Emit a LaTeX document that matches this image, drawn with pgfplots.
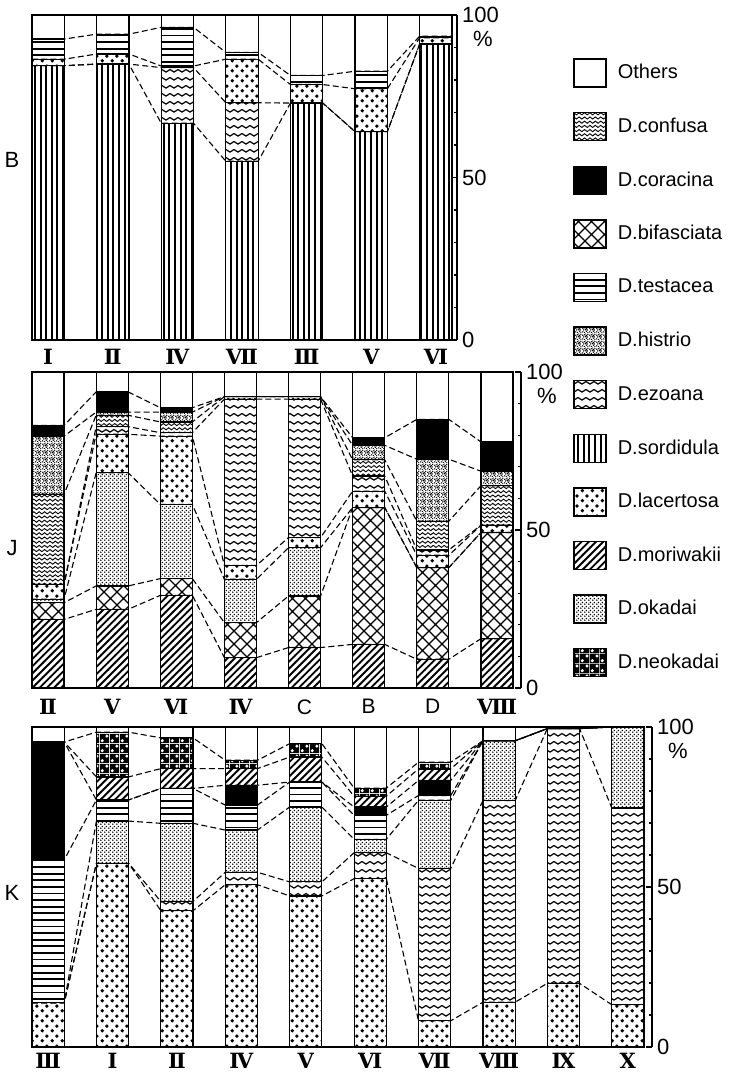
\documentclass[border=0pt]{standalone}
\usepackage{fontspec}
\setmainfont{Liberation Sans}
\newfontfamily\rmn{DejaVu Serif}
\usepackage{pgfplots}
\pgfplotsset{compat=1.18}
\usepackage{pgfplotstable}
\usetikzlibrary{patterns}

% ---------- patterns ----------
\pgfdeclarepatternformonly{pvl}{\pgfqpoint{0pt}{0pt}}{\pgfqpoint{1.4pt}{100pt}}{\pgfqpoint{2.8pt}{100pt}}{%
  \pgfsetlinewidth{1.05pt}\pgfpathmoveto{\pgfqpoint{0.7pt}{0pt}}\pgfpathlineto{\pgfqpoint{0.7pt}{100pt}}\pgfusepath{stroke}}
\pgfdeclarepatternformonly{phl}{\pgfqpoint{0pt}{0pt}}{\pgfqpoint{100pt}{1.2pt}}{\pgfqpoint{100pt}{3.3pt}}{%
  \pgfsetlinewidth{0.9pt}\pgfpathmoveto{\pgfqpoint{0pt}{0.6pt}}\pgfpathlineto{\pgfqpoint{100pt}{0.6pt}}\pgfusepath{stroke}}
\pgfdeclarepatternformonly{pwavy}{\pgfqpoint{-0.3pt}{0pt}}{\pgfqpoint{4.3pt}{2.2pt}}{\pgfqpoint{4pt}{4pt}}{%
  \pgfsetlinewidth{0.6pt}\pgfpathmoveto{\pgfqpoint{0pt}{1.1pt}}
  \pgfpathcurveto{\pgfqpoint{0.67pt}{1.95pt}}{\pgfqpoint{1.33pt}{1.95pt}}{\pgfqpoint{2pt}{1.1pt}}
  \pgfpathcurveto{\pgfqpoint{2.67pt}{0.25pt}}{\pgfqpoint{3.33pt}{0.25pt}}{\pgfqpoint{4pt}{1.1pt}}\pgfusepath{stroke}}
\pgfdeclarepatternformonly{pconf}{\pgfqpoint{-0.3pt}{0pt}}{\pgfqpoint{3.0pt}{1.6pt}}{\pgfqpoint{2.7pt}{2.1pt}}{%
  \pgfsetlinewidth{0.45pt}\pgfpathmoveto{\pgfqpoint{0pt}{0.8pt}}
  \pgfpathcurveto{\pgfqpoint{0.45pt}{1.5pt}}{\pgfqpoint{0.9pt}{1.5pt}}{\pgfqpoint{1.35pt}{0.8pt}}
  \pgfpathcurveto{\pgfqpoint{1.8pt}{0.1pt}}{\pgfqpoint{2.25pt}{0.1pt}}{\pgfqpoint{2.7pt}{0.8pt}}\pgfusepath{stroke}}
\pgfdeclarepatternformonly{pbig}{\pgfqpoint{0pt}{0pt}}{\pgfqpoint{5pt}{5pt}}{\pgfqpoint{5pt}{5pt}}{%
  \pgfpathcircle{\pgfqpoint{1.25pt}{1.25pt}}{1.0pt}\pgfpathcircle{\pgfqpoint{3.75pt}{3.75pt}}{1.0pt}\pgfusepath{fill}}
\pgfdeclarepatternformonly{pfine}{\pgfqpoint{0pt}{0pt}}{\pgfqpoint{2pt}{2pt}}{\pgfqpoint{2pt}{2pt}}{%
  \pgfpathcircle{\pgfqpoint{0.5pt}{0.5pt}}{0.47pt}\pgfpathcircle{\pgfqpoint{1.5pt}{1.5pt}}{0.47pt}\pgfusepath{fill}}
\pgfdeclarepatternformonly{pdiag}{\pgfqpoint{-1pt}{-1pt}}{\pgfqpoint{4.6pt}{4.6pt}}{\pgfqpoint{3.6pt}{3.6pt}}{%
  \pgfsetlinewidth{0.95pt}\pgfpathmoveto{\pgfqpoint{-0.1pt}{-0.1pt}}\pgfpathlineto{\pgfqpoint{3.7pt}{3.7pt}}\pgfusepath{stroke}}
\pgfdeclarepatternformonly{pbif}{\pgfqpoint{-1pt}{-1pt}}{\pgfqpoint{7.5pt}{7.5pt}}{\pgfqpoint{6.5pt}{6.5pt}}{%
  \pgfsetlinewidth{0.6pt}\pgfpathmoveto{\pgfqpoint{-0.1pt}{-0.1pt}}\pgfpathlineto{\pgfqpoint{6.6pt}{6.6pt}}
  \pgfpathmoveto{\pgfqpoint{-0.1pt}{6.6pt}}\pgfpathlineto{\pgfqpoint{6.6pt}{-0.1pt}}\pgfusepath{stroke}}
\pgfdeclarepatternformonly{pneo}{\pgfqpoint{0pt}{0pt}}{\pgfqpoint{5pt}{5pt}}{\pgfqpoint{5pt}{5pt}}{%
  \pgfseteorule\pgfpathrectangle{\pgfpointorigin}{\pgfqpoint{5pt}{5pt}}
  \pgfpathcircle{\pgfqpoint{1.25pt}{1.25pt}}{1.05pt}\pgfpathcircle{\pgfqpoint{3.75pt}{3.75pt}}{1.05pt}\pgfusepath{fill}}
\pgfdeclarepatternformonly{phist}{\pgfqpoint{0pt}{0pt}}{\pgfqpoint{3.6pt}{3.6pt}}{\pgfqpoint{3.6pt}{3.6pt}}{%
  \pgfpathcircle{\pgfqpoint{0.4pt}{0.6pt}}{0.4pt}\pgfpathcircle{\pgfqpoint{1.4pt}{0.3pt}}{0.35pt}
  \pgfpathcircle{\pgfqpoint{2.4pt}{0.9pt}}{0.4pt}\pgfpathcircle{\pgfqpoint{3.2pt}{0.3pt}}{0.35pt}
  \pgfpathcircle{\pgfqpoint{0.9pt}{1.6pt}}{0.35pt}\pgfpathcircle{\pgfqpoint{1.9pt}{1.8pt}}{0.4pt}
  \pgfpathcircle{\pgfqpoint{2.9pt}{1.6pt}}{0.35pt}\pgfpathcircle{\pgfqpoint{0.3pt}{2.6pt}}{0.4pt}
  \pgfpathcircle{\pgfqpoint{1.3pt}{2.9pt}}{0.35pt}\pgfpathcircle{\pgfqpoint{2.3pt}{2.5pt}}{0.38pt}
  \pgfpathcircle{\pgfqpoint{3.2pt}{3.1pt}}{0.4pt}\pgfpathcircle{\pgfqpoint{1.0pt}{2.2pt}}{0.25pt}
  \pgfpathcircle{\pgfqpoint{2.8pt}{2.2pt}}{0.25pt}\pgfpathcircle{\pgfqpoint{2.0pt}{3.3pt}}{0.3pt}
  \pgfusepath{fill}}

\tikzset{
  s-oth/.style={fill=white},
  s-conf/.style={pattern=pconf},
  s-cor/.style={fill=black},
  s-bif/.style={pattern=pbif},
  s-test/.style={pattern=phl},
  s-hist/.style={pattern=phist},
  s-ezo/.style={pattern=pwavy},
  s-sord/.style={pattern=pvl},
  s-lac/.style={pattern=pbig},
  s-mori/.style={pattern=pdiag},
  s-oka/.style={pattern=pfine},
  s-neo/.style={pattern=pneo},
}

\pgfplotsset{
  barpanel/.style={scale only axis, anchor=south west, ymin=0, ymax=100,
    ybar stacked, bar width=0.5, ytick=\empty, xtick style={draw=none},
    axis line style={line width=0.7pt},
    every axis plot/.append style={draw=black, line width=0.6pt},
    xticklabel style={font=\rmn\bfseries\fontsize{10.5}{10.5}\selectfont, inner sep=1pt}},
  linepanel/.style={scale only axis, anchor=south west, ymin=0, ymax=100,
    hide axis, stack plots=y},
  dl/.style={black, dash pattern=on 3pt off 1.6pt, line width=0.55pt, mark=none},
  raxis/.style={scale only axis, anchor=south west, width=1pt, xmin=0, xmax=1,
    ymin=0, ymax=100, axis x line=none, axis y line*=right, clip=false,
    ytick={0,50,100}, minor ytick={10,20,30,40,60,70,80,90},
    tick align=inside, major tick length=3pt, minor tick length=1.5pt,
    axis line style={line width=0.6pt}, tick style={line width=0.6pt, black},
    /pgf/number format/assume math mode=true,
    yticklabel style={font=\fontsize{11}{11}\selectfont, xshift=-1pt}},
}

% ---------- data: panel B (bottom to top) ----------
\pgfplotstableread{
x sord ezo lac test oth
0 84.4 0 2.0 6.2 7.4
1 84.9 0 3.1 6.1 5.9
2 66.7 17.1 0.5 11.9 3.8
3 55.0 18.0 13.4 2.1 11.5
4 72.9 0 5.7 2.8 18.6
5 64.1 0 13.2 5.4 17.3
6 91.1 0 1.9 0.5 6.5
}\Bbar
\pgfplotstableread{
x sord ezo lac test
-0.25 84.4 0 2.0 6.2
0.25 84.4 0 2.0 6.2
0.75 84.9 0 3.1 6.1
1.25 84.9 0 3.1 6.1
1.75 66.7 17.1 0.5 11.9
2.25 66.7 17.1 0.5 11.9
2.75 55.0 18.0 13.4 2.1
3.25 55.0 18.0 13.4 2.1
3.75 72.9 0 5.7 2.8
4.25 72.9 0 5.7 2.8
4.75 64.1 0 13.2 5.4
5.25 64.1 0 13.2 5.4
5.75 91.1 0 1.9 0.5
6.25 91.1 0 1.9 0.5
}\Bline

% ---------- data: panel J ----------
\pgfplotstableread{
x mori bif oka lac ezo conf hist cor oth
0 21.7 5.3 1.1 4.7 0 28.5 18.4 3.4 16.9
1 24.9 7.4 35.8 12.2 2.4 3.6 1.0 6.4 6.3
2 29.3 5.3 23.5 21.6 1.1 3.4 3.1 1.4 11.3
3 9.6 11.1 13.7 4.4 52.6 0.8 0 0 7.8
4 12.8 16.3 15.3 3.2 43.8 0.8 0 0 7.8
5 13.8 43.3 0 5.2 4.8 5.1 4.6 2.4 20.8
6 9.1 29.0 0 3.9 1.7 9.1 19.6 12.6 15.0
7 15.6 33.6 0 2.3 0 12.5 4.6 9.3 22.1
}\Jbar
\pgfplotstableread{
x mori bif oka lac ezo conf hist cor
-0.25 21.7 5.3 1.1 4.7 0 28.5 18.4 3.4
0.25 21.7 5.3 1.1 4.7 0 28.5 18.4 3.4
0.75 24.9 7.4 35.8 12.2 2.4 3.6 1.0 6.4
1.25 24.9 7.4 35.8 12.2 2.4 3.6 1.0 6.4
1.75 29.3 5.3 23.5 21.6 1.1 3.4 3.1 1.4
2.25 29.3 5.3 23.5 21.6 1.1 3.4 3.1 1.4
2.75 9.6 11.1 13.7 4.4 52.6 0.8 0 0
3.25 9.6 11.1 13.7 4.4 52.6 0.8 0 0
3.75 12.8 16.3 15.3 3.2 43.8 0.8 0 0
4.25 12.8 16.3 15.3 3.2 43.8 0.8 0 0
4.75 13.8 43.3 0 5.2 4.8 5.1 4.6 2.4
5.25 13.8 43.3 0 5.2 4.8 5.1 4.6 2.4
5.75 9.1 29.0 0 3.9 1.7 9.1 19.6 12.6
6.25 9.1 29.0 0 3.9 1.7 9.1 19.6 12.6
6.75 15.6 33.6 0 2.3 0 12.5 4.6 9.3
7.25 15.6 33.6 0 2.3 0 12.5 4.6 9.3
}\Jline

% ---------- data: panel K ----------
\pgfplotstableread{
x lac ezo oka test cor mori neo oth
0 13.8 0 0 44.7 36.8 0 0 4.7
1 57.4 0 13.2 6.6 0 7.2 14.0 1.6
2 42.6 2.9 24.4 10.9 0 6.2 9.6 3.4
3 50.7 3.9 13.2 7.8 6.2 5.2 2.6 10.4
4 47.2 4.4 23.4 7.8 0 7.8 4.2 5.2
5 52.6 8.1 4.2 7.5 2.6 3.4 2.5 19.1
6 8.2 47.6 21.3 1.5 4.7 3.6 2.1 11.0
7 14.0 63.0 18.7 0 0 0 0 4.3
8 19.9 79.6 0 0 0 0 0 0.5
9 13.2 61.5 25.3 0 0 0 0 0
}\Kbar
\pgfplotstableread{
x lac ezo oka test cor mori neo
-0.25 13.8 0 0 44.7 36.8 0 0
0.25 13.8 0 0 44.7 36.8 0 0
0.75 57.4 0 13.2 6.6 0 7.2 14.0
1.25 57.4 0 13.2 6.6 0 7.2 14.0
1.75 42.6 2.9 24.4 10.9 0 6.2 9.6
2.25 42.6 2.9 24.4 10.9 0 6.2 9.6
2.75 50.7 3.9 13.2 7.8 6.2 5.2 2.6
3.25 50.7 3.9 13.2 7.8 6.2 5.2 2.6
3.75 47.2 4.4 23.4 7.8 0 7.8 4.2
4.25 47.2 4.4 23.4 7.8 0 7.8 4.2
4.75 52.6 8.1 4.2 7.5 2.6 3.4 2.5
5.25 52.6 8.1 4.2 7.5 2.6 3.4 2.5
5.75 8.2 47.6 21.3 1.5 4.7 3.6 2.1
6.25 8.2 47.6 21.3 1.5 4.7 3.6 2.1
6.75 14.0 63.0 18.7 0 0 0 0
7.25 14.0 63.0 18.7 0 0 0 0
7.75 19.9 79.6 0 0 0 0 0
8.25 19.9 79.6 0 0 0 0 0
8.75 13.2 61.5 25.3 0 0 0 0
9.25 13.2 61.5 25.3 0 0 0 0
}\Kline

\begin{document}
\begin{tikzpicture}
\useasboundingbox (0,0) rectangle (366.5pt,536.5pt);

% ================= Panel B =================
\begin{axis}[barpanel, at={(16pt,366.5pt)}, width=210pt, height=162.5pt,
  xmin=-0.25, xmax=6.25, xtick={0,...,6}, xticklabels={Ⅰ,Ⅱ,Ⅳ,Ⅶ,Ⅲ,Ⅴ,Ⅵ},
  xticklabel style={yshift=-3.5pt}]
\addplot[s-sord] table[x=x,y=sord]{\Bbar};
\addplot[s-ezo] table[x=x,y=ezo]{\Bbar};
\addplot[s-lac] table[x=x,y=lac]{\Bbar};
\addplot[s-test] table[x=x,y=test]{\Bbar};
\addplot[s-oth] table[x=x,y=oth]{\Bbar};
\end{axis}
\begin{axis}[linepanel, at={(16pt,366.5pt)}, width=210pt, height=162.5pt,
  xmin=-0.25, xmax=6.25]
\addplot[dl] table[x=x,y=sord]{\Bline};
\addplot[dl] table[x=x,y=ezo]{\Bline};
\addplot[dl] table[x=x,y=lac]{\Bline};
\addplot[dl] table[x=x,y=test]{\Bline};
\end{axis}
\begin{axis}[raxis, at={(227.5pt,366.5pt)}, height=162.5pt]
\node[font=\fontsize{11}{11}\selectfont, xshift=13pt, yshift=-12pt] at (axis cs:1,100) {\%};
\end{axis}
\node[font=\fontsize{11}{11}\selectfont] at (6pt,456.5pt) {B};

% ================= Panel J =================
\begin{axis}[barpanel, at={(16pt,192.5pt)}, width=240.5pt, height=158pt,
  xmin=-0.25, xmax=7.25, xtick={0,...,7},
  xticklabels={Ⅱ,Ⅴ,Ⅵ,Ⅳ,{\rmfamily\mdseries C},{\rmfamily\mdseries B},{\rmfamily\mdseries D},Ⅷ},
  xticklabel style={yshift=-4.5pt}]
\addplot[s-mori] table[x=x,y=mori]{\Jbar};
\addplot[s-bif] table[x=x,y=bif]{\Jbar};
\addplot[s-oka] table[x=x,y=oka]{\Jbar};
\addplot[s-lac] table[x=x,y=lac]{\Jbar};
\addplot[s-ezo] table[x=x,y=ezo]{\Jbar};
\addplot[s-conf] table[x=x,y=conf]{\Jbar};
\addplot[s-hist] table[x=x,y=hist]{\Jbar};
\addplot[s-cor] table[x=x,y=cor]{\Jbar};
\addplot[s-oth] table[x=x,y=oth]{\Jbar};
\end{axis}
\begin{axis}[linepanel, at={(16pt,192.5pt)}, width=240.5pt, height=158pt,
  xmin=-0.25, xmax=7.25]
\addplot[dl] table[x=x,y=mori]{\Jline};
\addplot[dl] table[x=x,y=bif]{\Jline};
\addplot[dl] table[x=x,y=oka]{\Jline};
\addplot[dl] table[x=x,y=lac]{\Jline};
\addplot[dl] table[x=x,y=ezo]{\Jline};
\addplot[dl] table[x=x,y=conf]{\Jline};
\addplot[dl] table[x=x,y=hist]{\Jline};
\addplot[dl] table[x=x,y=cor]{\Jline};
\end{axis}
\begin{axis}[raxis, at={(259.5pt,192.5pt)}, height=158pt]
\node[font=\fontsize{11}{11}\selectfont, xshift=13pt, yshift=-12pt] at (axis cs:1,100) {\%};
\end{axis}
\node[font=\fontsize{11}{11}\selectfont] at (6pt,262.5pt) {J};

% ================= Panel K =================
\begin{axis}[barpanel, at={(16pt,13pt)}, width=306pt, height=160pt,
  xmin=-0.25, xmax=9.25, xtick={0,...,9},
  xticklabels={Ⅲ,Ⅰ,Ⅱ,Ⅳ,Ⅴ,Ⅵ,Ⅶ,Ⅷ,Ⅸ,Ⅹ},
  xticklabel style={yshift=-2pt}]
\addplot[s-lac] table[x=x,y=lac]{\Kbar};
\addplot[s-ezo] table[x=x,y=ezo]{\Kbar};
\addplot[s-oka] table[x=x,y=oka]{\Kbar};
\addplot[s-test] table[x=x,y=test]{\Kbar};
\addplot[s-cor] table[x=x,y=cor]{\Kbar};
\addplot[s-mori] table[x=x,y=mori]{\Kbar};
\addplot[s-neo] table[x=x,y=neo]{\Kbar};
\addplot[s-oth] table[x=x,y=oth]{\Kbar};
\end{axis}
\begin{axis}[linepanel, at={(16pt,13pt)}, width=306pt, height=160pt,
  xmin=-0.25, xmax=9.25]
\addplot[dl] table[x=x,y=lac]{\Kline};
\addplot[dl] table[x=x,y=ezo]{\Kline};
\addplot[dl] table[x=x,y=oka]{\Kline};
\addplot[dl] table[x=x,y=test]{\Kline};
\addplot[dl] table[x=x,y=cor]{\Kline};
\addplot[dl] table[x=x,y=mori]{\Kline};
\addplot[dl] table[x=x,y=neo]{\Kline};
\end{axis}
\begin{axis}[raxis, at={(325pt,13pt)}, height=160pt]
\node[font=\fontsize{11}{11}\selectfont, xshift=13pt, yshift=-12pt] at (axis cs:1,100) {\%};
\end{axis}
\node[font=\fontsize{11}{11}\selectfont] at (6pt,90pt) {K};

% ================= Legend =================
\begin{axis}[at={(286.5pt,507.5pt)}, anchor=north west, scale only axis,
  width=1pt, height=1pt, hide axis, xmin=0, xmax=1, ymin=0, ymax=1,
  legend cell align=left,
  legend style={at={(0,1)}, anchor=north west, draw=none, fill=none,
    font=\fontsize{10}{12}\selectfont, row sep=12.1pt, column sep=3.5pt,
    inner sep=0pt},
  legend image code/.code={\draw[#1, line width=0.7pt] (0pt,-7pt) rectangle (16pt,7pt);}]
\addlegendimage{s-oth}\addlegendentry{Others}
\addlegendimage{s-conf}\addlegendentry{D.confusa}
\addlegendimage{s-cor}\addlegendentry{D.coracina}
\addlegendimage{s-bif}\addlegendentry{D.bifasciata}
\addlegendimage{s-test}\addlegendentry{D.testacea}
\addlegendimage{s-hist}\addlegendentry{D.histrio}
\addlegendimage{s-ezo}\addlegendentry{D.ezoana}
\addlegendimage{s-sord}\addlegendentry{D.sordidula}
\addlegendimage{s-lac}\addlegendentry{D.lacertosa}
\addlegendimage{s-mori}\addlegendentry{D.moriwakii}
\addlegendimage{s-oka}\addlegendentry{D.okadai}
\addlegendimage{s-neo}\addlegendentry{D.neokadai}
\end{axis}
\end{tikzpicture}
\end{document}
